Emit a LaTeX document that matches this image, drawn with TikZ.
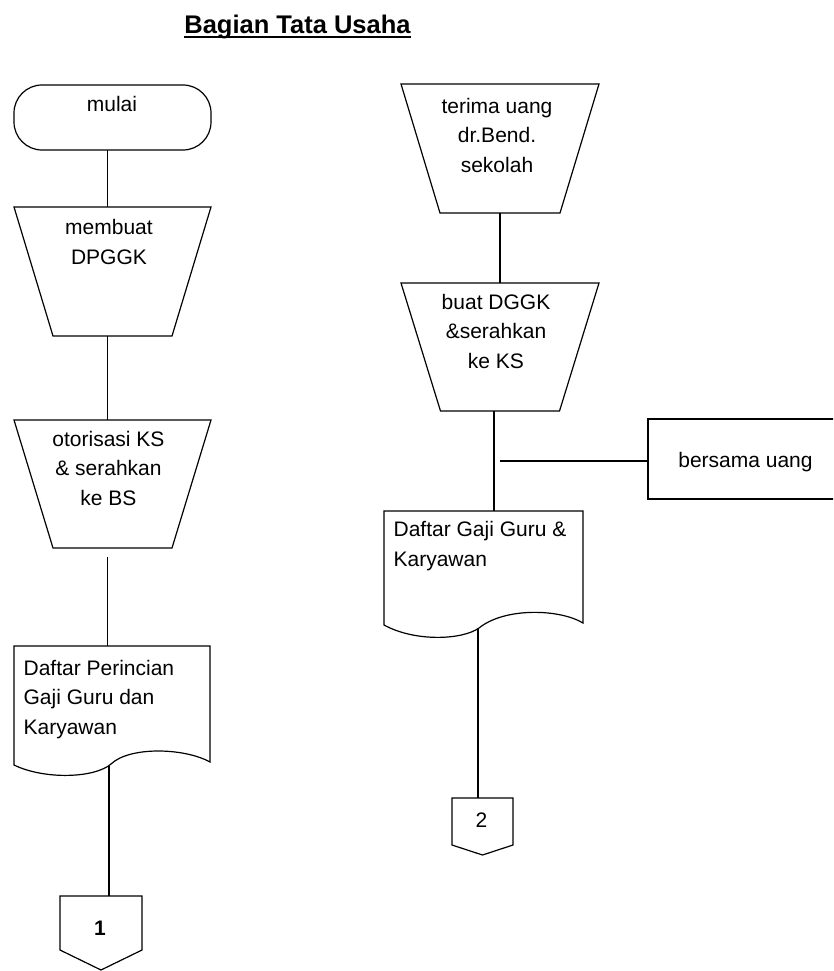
\documentclass[tikz,border=0pt]{standalone}
\usepackage{fontspec}
\setmainfont{Liberation Sans}
\usetikzlibrary{calc}

% outline helpers: manual-input trapezium and off-page connector
\newcommand\drawtrap[2]{\draw (#1.north west) -- (#1.north east) -- ([xshift=-#2]#1.south east) -- ([xshift=#2]#1.south west) -- cycle;}
\newcommand\drawoffpage[2]{\draw (#1.north west) -- (#1.north east) -- ([yshift=#2]#1.south east) -- (#1.south) -- ([yshift=#2]#1.south west) -- cycle;}

\begin{document}
\begin{tikzpicture}[x=1pt,y=-1pt,line width=1.2pt,
  frame/.style={inner sep=0pt,outer sep=0pt,minimum width=#1},
  lbl/.style={inner sep=0pt,font=\fontsize{21}{29.5}\selectfont},
]
\useasboundingbox (0,0) rectangle (833,971);
\clip (0,0) rectangle (833,971);

% heading
\node[inner sep=0pt,anchor=base,font=\fontsize{25.5}{30}\selectfont\bfseries] (title) at (297.5,34) {Bagian Tata Usaha};
\draw[line width=1.3pt] ([yshift=-3pt]title.base west) -- ([yshift=-3pt]title.base east);

% column guides for the vertical flow lines
\coordinate (colA) at (107.5,0);
\coordinate (colB) at (494,0);

% multi-line labels are placed by the baseline of their last line

% ---------------- left column ----------------
\node[frame=197pt,minimum height=65pt,draw,rounded corners=28pt] (mulai) at (112.5,117.5) {};
\node[lbl,anchor=base] (mulai-t) at (112,112) {mulai};

\node[frame=197pt,minimum height=129pt] (membuat) at (112.5,271.5) {};
\drawtrap{membuat}{39pt}
\node[lbl,anchor=base,align=center] (membuat-t) at (109,264) {membuat\\DPGGK};

\node[frame=197pt,minimum height=128pt] (otor) at (112.5,484) {};
\drawtrap{otor}{39pt}
\node[lbl,anchor=base,align=center] (otor-t) at (108.5,505) {otorisasi KS\\\& serahkan\\ke BS};

\node[frame=196pt,minimum height=118pt] (doc1) at (112,705) {};
\draw (doc1.north west) -- (doc1.north east) -- (210,762)
  .. controls (185,748) and (130,746) .. (111,764)
  .. controls (95,778) and (45,780) .. (14,765) -- cycle;
\node[lbl,anchor=base west,align=left] (doc1-t) at (23,734) {Daftar Perincian\\Gaji Guru dan\\Karyawan};
\coordinate (doc1-out) at (109,766);

\node[frame=82pt,minimum height=74pt] (con1) at (101,933) {};
\drawoffpage{con1}{20pt}
\node[lbl,anchor=base,font=\fontsize{21}{24}\selectfont\bfseries] (con1-t) at (100,935) {1};

% ---------------- right column ----------------
\node[frame=198pt,minimum height=129pt] (terima) at (500,148.5) {};
\drawtrap{terima}{39pt}
\node[lbl,anchor=base,align=center] (terima-t) at (497,172) {terima uang\\dr.Bend.\\sekolah};

\node[frame=198pt,minimum height=128pt] (buat) at (500,347) {};
\drawtrap{buat}{39.5pt}
\node[lbl,anchor=base,align=center] (buat-t) at (496,368) {buat DGGK\\\&serahkan\\ke KS};

\node[frame=199pt,minimum height=113pt] (doc2) at (483.5,567.5) {};
\draw (doc2.north west) -- (doc2.north east) -- (583,623)
  .. controls (560,609) and (505,607) .. (479,628)
  .. controls (462,640) and (415,642) .. (384,625) -- cycle;
\node[lbl,anchor=base west,align=left] (doc2-t) at (393,566) {Daftar Gaji Guru \&\\Karyawan};
\coordinate (doc2-out) at (478,629);

\node[frame=197pt,minimum height=80pt,draw] (bersama) at (746.5,459) {};
\node[lbl,anchor=base] (bersama-t) at (745.5,467) {bersama uang};
\coordinate (tee) at (500,461);

\node[frame=61pt,minimum height=57pt] (con2) at (482.5,826.5) {};
\drawoffpage{con2}{10pt}
\node[lbl,anchor=base] (con2-t) at (481.5,827) {2};

% ---------------- flow lines ----------------
\draw (mulai.south -| colA) -- (membuat.north -| colA);
\draw (membuat.south -| colA) -- (otor.north -| colA);
\draw ([yshift=-9pt]otor.south -| colA) -- (doc1.north -| colA);
\draw (doc1-out) -- (doc1-out |- con1.north);

\draw (terima.south) -- (buat.north);
\draw (buat.south -| colB) -- (doc2.north -| colB);
\draw (tee) -- (tee -| bersama.west);
\draw (doc2-out) -- (doc2-out |- con2.north);
\end{tikzpicture}
\end{document}
